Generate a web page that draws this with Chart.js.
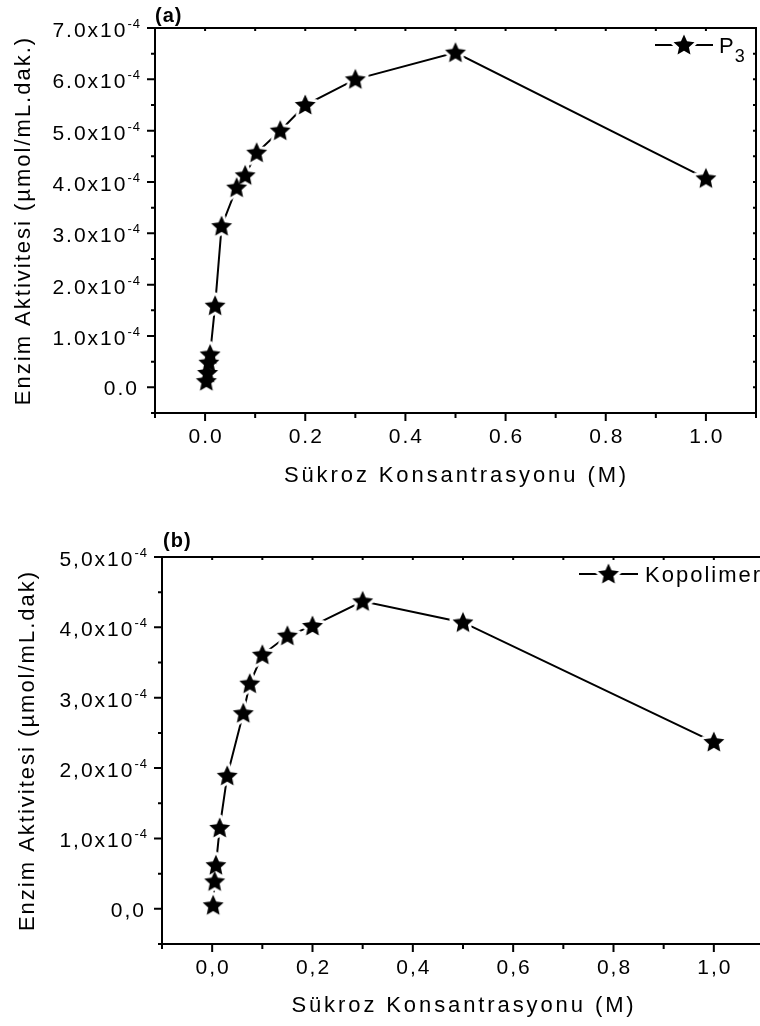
<!DOCTYPE html>
<html><head><meta charset="utf-8">
<script src="https://cdn.jsdelivr.net/npm/chart.js@4/dist/chart.umd.min.js"></script>
<style>
html,body{margin:0;padding:0;background:#fff;overflow:hidden;width:760px;height:1026px;position:relative}
canvas{position:absolute;left:0}
#ca{top:0}
#cb{top:510px}
</style></head><body>
<canvas id="ca" width="760" height="510"></canvas>
<canvas id="cb" width="770" height="516"></canvas>
<script>
// ---------- Panel (a): P3 ----------
const concA = [0.0025, 0.005, 0.0075, 0.01, 0.02, 0.033, 0.063, 0.08, 0.103, 0.15, 0.2, 0.3, 0.5, 1.0];
const activityA = [0.12e-4, 0.28e-4, 0.48e-4, 0.64e-4, 1.59e-4, 3.14e-4, 3.89e-4, 4.13e-4, 4.57e-4, 5.0e-4, 5.5e-4, 6.0e-4, 6.52e-4, 4.07e-4];
const xTickValuesA = [0, 0.2, 0.4, 0.6, 0.8, 1.0];
const xTickLabelsA = ['0.0', '0.2', '0.4', '0.6', '0.8', '1.0'];
const yTickValuesA = [0, 1e-4, 2e-4, 3e-4, 4e-4, 5e-4, 6e-4, 7e-4];
const yTickLabelsA = ['0.0', '1.0', '2.0', '3.0', '4.0', '5.0', '6.0', '7.0'];

// ---------- Panel (b): Kopolimer ----------
const concB = [0.002, 0.005, 0.0075, 0.015, 0.03, 0.062, 0.075, 0.1, 0.15, 0.2, 0.3, 0.5, 1.0];
const activityB = [0.05e-4, 0.39e-4, 0.62e-4, 1.15e-4, 1.89e-4, 2.78e-4, 3.2e-4, 3.61e-4, 3.88e-4, 4.02e-4, 4.37e-4, 4.07e-4, 2.37e-4];
const xTickValuesB = [0, 0.2, 0.4, 0.6, 0.8, 1.0];
const xTickLabelsB = ['0,0', '0,2', '0,4', '0,6', '0,8', '1,0'];
const yTickValuesB = [0, 1e-4, 2e-4, 3e-4, 4e-4, 5e-4];
const yTickLabelsB = ['0,0', '1,0', '2,0', '3,0', '4,0', '5,0'];
const yExponent = '-4';
const xTitle = 'Sükroz Konsantrasyonu (M)';

const FONT = '"Liberation Sans", Arial, Helvetica, sans-serif';
Chart.defaults.font.family = FONT;
Chart.defaults.color = '#000';

function makeStar(R, ratio, halo, fill) {
  const size = Math.ceil(2 * (R + halo)) + 2;
  const c = document.createElement('canvas');
  c.width = c.height = size;
  const g = c.getContext('2d');
  const cx = size / 2, cy = size / 2 + R * 0.05;
  g.beginPath();
  for (let i = 0; i < 10; i++) {
    const r = i % 2 ? R * ratio : R;
    const a = -Math.PI / 2 + i * Math.PI / 5;
    g.lineTo(cx + r * Math.cos(a), cy + r * Math.sin(a));
  }
  g.closePath();
  if (halo > 0) { g.lineWidth = halo * 2; g.strokeStyle = fill; g.lineJoin = 'round'; g.stroke(); }
  g.fillStyle = fill;
  g.fill();
  return c;
}
const haloImg = makeStar(11, 0.47, 3, '#fff');
const starImg = makeStar(11, 0.47, 3, '#000');
const starImgSolid = makeStar(11, 0.47, 0, '#000');

function decoPlugin(p) {
  return {
    id: 'deco',
    beforeDraw(chart) { chart.ctx.letterSpacing = '2px'; },
    afterDraw(chart) {
      const ctx = chart.ctx, xs = chart.scales.x, ys = chart.scales.y, a = chart.chartArea;
      ctx.save();
      ctx.letterSpacing = '2px';
      ctx.strokeStyle = '#000'; ctx.fillStyle = '#000'; ctx.lineWidth = 2;
      // frame
      ctx.beginPath();
      ctx.rect(a.left, a.top, a.right - a.left, a.bottom - a.top);
      ctx.stroke();
      // y ticks
      ctx.beginPath();
      for (let v = ys.min; v <= ys.max + 1e-12; v += p.yMinorStep) {
        const y = ys.getPixelForValue(v);
        const major = p.yTicks.some(t => Math.abs(t - v) < 1e-10);
        ctx.moveTo(a.left - (major ? 8 : 4), y); ctx.lineTo(a.left, y);
        ctx.moveTo(a.right - 3, y); ctx.lineTo(a.right, y);
      }
      // x ticks
      for (let v = xs.min; v <= xs.max + 1e-9; v += 0.1) {
        const x = xs.getPixelForValue(v);
        const major = p.xTicks.some(t => Math.abs(t - v) < 1e-6);
        ctx.moveTo(x, a.bottom); ctx.lineTo(x, a.bottom + (major ? 8 : 5));
        ctx.moveTo(x, a.top); ctx.lineTo(x, a.top + 3);
      }
      ctx.stroke();
      // y tick labels
      ctx.textAlign = 'right';
      ctx.textBaseline = 'alphabetic';
      const xEnd = a.left - 14;
      p.yTicks.forEach((v, i) => {
        const y = ys.getPixelForValue(v);
        const lab = p.yLabels[i];
        if (v === 0) {
          ctx.font = '21px ' + FONT;
          ctx.fillText(lab, xEnd - 2, y + 8);
        } else {
          ctx.font = '13px ' + FONT;
          ctx.letterSpacing = '1px';
          const sw = ctx.measureText(yExponent).width;
          ctx.fillText(yExponent, xEnd, y);
          ctx.letterSpacing = '2px';
          ctx.font = '21px ' + FONT;
          ctx.fillText(lab + 'x10', xEnd - sw, y + 9);
        }
      });
      // x tick labels
      ctx.textAlign = 'center';
      ctx.textBaseline = 'middle';
      ctx.font = '21px ' + FONT;
      p.xTicks.forEach((v, i) => {
        const x = xs.getPixelForValue(v);
        ctx.fillText(p.xLabels[i], x + 1, a.bottom + 24);
      });
      // x axis title
      ctx.font = '22px ' + FONT;
      ctx.letterSpacing = '2.9px';
      ctx.fillText(xTitle, (a.left + a.right) / 2 + 1, p.xTitleY);
      // panel label
      ctx.textAlign = 'left';
      ctx.font = 'bold 20px ' + FONT;
      ctx.letterSpacing = '1px';
      ctx.fillText(p.panel, p.panelX, p.panelY);
      // legend
      ctx.letterSpacing = '2px';
      const L = p.legend;
      ctx.beginPath();
      ctx.moveTo(L.x0, L.y); ctx.lineTo(L.x1, L.y); ctx.stroke();
      const sx = (L.x0 + L.x1) / 2;
      ctx.drawImage(haloImg, sx - haloImg.width / 2, L.y - haloImg.height / 2);
      ctx.drawImage(starImgSolid, sx - starImgSolid.width / 2, L.y - starImgSolid.height / 2);
      ctx.font = '22px ' + FONT;
      ctx.textBaseline = 'alphabetic';
      ctx.fillText(L.text, L.tx, L.y + 8);
      if (L.sub) {
        const w = ctx.measureText(L.text).width;
        ctx.font = '18px ' + FONT;
        ctx.fillText(L.sub, L.tx + w - 1, L.y + 17);
      }
      ctx.restore();
    }
  };
}

function makeChart(id, conc, act, opt) {
  const pts = conc.map((x, i) => ({ x: x, y: act[i] }));
  return new Chart(document.getElementById(id), {
    type: 'line',
    data: {
      datasets: [{
        // connecting line; white halos cut gaps around the symbols
        data: pts, order: 2,
        borderColor: '#000', borderWidth: 2, tension: 0,
        pointStyle: haloImg, pointRadius: 10, pointHoverRadius: 10,
        fill: false
      }, {
        // star symbols drawn on top
        data: pts, order: 1, showLine: false,
        borderColor: '#000', borderWidth: 0,
        pointStyle: starImgSolid, pointRadius: 10, pointHoverRadius: 10,
        fill: false
      }]
    },
    options: {
      responsive: false, animation: false, events: [],
      layout: { autoPadding: false, padding: { top: opt.padTop, right: opt.padRight, left: 0, bottom: 0 } },
      plugins: { legend: { display: false }, tooltip: { enabled: false } },
      scales: {
        x: {
          type: 'linear', min: -0.1, max: 1.1,
          grid: { display: false }, border: { display: false }, ticks: { display: false },
          title: { display: false },
          afterFit(s) { s.height = opt.xHeight; }
        },
        y: {
          type: 'linear', min: opt.yMin, max: opt.yMax,
          grid: { display: false }, border: { display: false }, ticks: { display: false },
          title: { display: true, text: opt.yTitle, color: '#000',
                   font: { size: 22, family: FONT }, padding: { top: opt.yTitlePad, bottom: 0 } },
          afterFit(s) { s.width = opt.yWidth; }
        }
      }
    },
    plugins: [decoPlugin(opt.deco)]
  });
}

makeChart('ca', concA, activityA, {
  padTop: 28, padRight: 4, xHeight: 97, yWidth: 155, yTitlePad: 11,
  yMin: -0.5e-4, yMax: 7e-4, yTitle: 'Enzim Aktivitesi (µmol/mL.dak.)',
  deco: {
    yTicks: yTickValuesA, yLabels: yTickLabelsA, yMinorStep: 0.5e-4,
    xTicks: xTickValuesA, xLabels: xTickLabelsA, xTitleY: 476,
    panel: '(a)', panelX: 155, panelY: 16,
    legend: { x0: 655, x1: 713, y: 45, tx: 719, text: 'P', sub: '3' }
  }
});

makeChart('cb', concB, activityB, {
  padTop: 47, padRight: 6, xHeight: 82, yWidth: 162, yTitlePad: 15,
  yMin: -0.5e-4, yMax: 5e-4, yTitle: 'Enzim Aktivitesi (µmol/mL.dak)',
  deco: {
    yTicks: yTickValuesB, yLabels: yTickLabelsB, yMinorStep: 0.5e-4,
    xTicks: xTickValuesB, xLabels: xTickLabelsB, xTitleY: 496,
    panel: '(b)', panelX: 163, panelY: 31,
    legend: { x0: 579, x1: 638, y: 64, tx: 645, text: 'Kopolimer', sub: '' }
  }
});
</script>
</body></html>
